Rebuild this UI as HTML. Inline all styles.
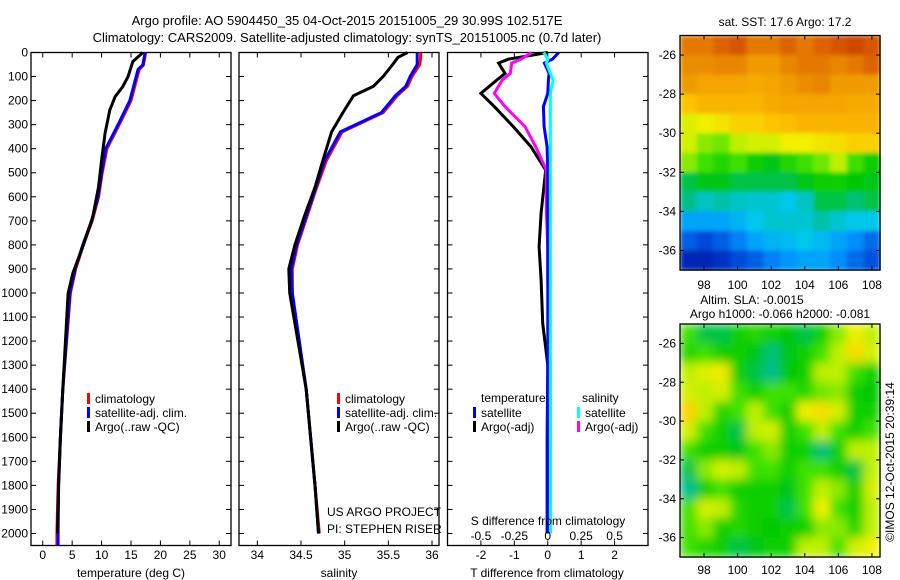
<!DOCTYPE html>
<html><head><meta charset="utf-8"><style>
body{margin:0;background:#fff}
svg{display:block;font-family:"Liberation Sans",sans-serif;font-size:12px}
</style></head><body>
<svg id="fig" width="900" height="580" viewBox="0 0 900 580">
<defs>
<filter id="blurS" x="0" y="0" width="1" height="1"><feGaussianBlur stdDeviation="2" edgeMode="duplicate"/></filter>
<filter id="blurL" x="0" y="0" width="1" height="1"><feGaussianBlur stdDeviation="5" edgeMode="duplicate"/></filter>
</defs>
<text x="347" y="25" text-anchor="middle" font-size="13">Argo profile: AO 5904450_35 04-Oct-2015 20151005_29 30.99S 102.517E</text>
<text x="347" y="42" text-anchor="middle" font-size="13">Climatology: CARS2009. Satellite-adjusted climatology: synTS_20151005.nc (0.7d later)</text>
<text x="785" y="26" text-anchor="middle">sat. SST: 17.6 Argo: 17.2</text>
<text x="752" y="304" text-anchor="middle">Altim. SLA: -0.0015</text>
<text x="780" y="318" text-anchor="middle">Argo h1000: -0.066 h2000: -0.081</text>
<text transform="translate(894,462) rotate(-90)" text-anchor="middle">©IMOS 12-Oct-2015 20:39:14</text>
<g id="root"></g>
</svg>
<script>
// ---- data ----
const depthsUpper = [0, 38, 100, 142, 184, 239, 335, 447, 558, 683, 807, 918, 1002, 1400, 1600, 1800, 2000];
const argoTemp    = [17.0, 15.3, 14.5, 13.6, 12.3, 11.4, 10.6, 10.0, 9.5, 8.5, 6.8, 5.1, 4.3, 3.4, 3.0, 2.7, 2.5];
const climDepths  = [0, 52, 70, 200, 300, 400, 500, 600, 700, 800, 900, 1000, 1400, 1600, 1800, 2000, 2050];
const satTemp     = [17.4, 17.0, 16.2, 14.8, 12.8, 10.7, 10.0, 9.4, 8.3, 6.8, 5.5, 4.6, 3.4, 3.0, 2.7, 2.6, 2.6];
const climTemp    = [17.5, 17.1, 16.4, 15.0, 13.0, 10.9, 10.1, 9.5, 8.4, 6.9, 5.6, 4.7, 3.4, 3.0, 2.6, 2.4, 2.4];
const salDepths   = [0, 20, 50, 100, 140, 180, 250, 330, 450, 560, 680, 800, 900, 1000, 1400, 1600, 1800, 2000];
const argoSal     = [35.72, 35.61, 35.55, 35.44, 35.33, 35.10, 34.98, 34.85, 34.75, 34.66, 34.54, 34.43, 34.36, 34.37, 34.56, 34.61, 34.66, 34.70];
const satSal      = [35.83, 35.83, 35.83, 35.75, 35.70, 35.58, 35.42, 34.95, 34.77, 34.67, 34.56, 34.45, 34.39, 34.40, 34.56, 34.61, 34.66, 34.70];
const climSal     = [35.87, 35.87, 35.86, 35.77, 35.72, 35.60, 35.44, 34.97, 34.79, 34.68, 34.57, 34.46, 34.40, 34.40, 34.56, 34.61, 34.66, 34.71];
const diffDepths  = [0, 28, 44, 87, 114, 170, 225, 308, 392, 489, 668, 807, 946, 1126, 1300, 1600, 2000];
const argoTDiff   = [0.0, -1.18, -1.47, -1.28, -1.52, -2.0, -1.6, -1.03, -0.5, -0.06, -0.2, -0.26, -0.2, -0.15, 0.0, 0.0, 0.0];
const argoSDiff   = [-0.12, -0.20, -0.27, -0.28, -0.34, -0.40, -0.32, -0.17, -0.09, -0.01, -0.01, 0.0, 0.0, 0.01, 0.02, 0.02, 0.02];
const satTDiff    = [0.33, 0.14, -0.1, 0.04, 0.02, 0.0, -0.13, -0.11, -0.02, 0.0, 0.0, 0.0, 0.0, 0.0, 0.0, -0.02, -0.02];
const satSDiff    = [-0.03, 0.0, -0.01, 0.02, 0.04, 0.02, 0.02, 0.02, 0.02, 0.02, 0.02, 0.02, 0.02, 0.02, 0.02, 0.02, 0.02];
const depthTicks  = [0,100,200,300,400,500,600,700,800,900,1000,1100,1200,1300,1400,1500,1600,1700,1800,1900,2000];
const tempTicks   = [0,5,10,15,20,25,30];
const salTicks    = [34,34.5,35,35.5,36];
const salTickLabels = ['34','34.5','35','35.5','36'];
const tdTicks     = [-2,-1,0,1,2];
const sdTicks     = [-0.5,-0.25,0,0.25,0.5];
const sdTickLabels = ['-0.5','-0.25','0','0.25','0.5'];
const lonTicks    = [98,100,102,104,106,108];
const latTicks    = [-26,-28,-30,-32,-34,-36];
const sstGrid = [
 [0.85,0.85,0.88,0.9,0.85,0.85,0.88,0.85,0.88,0.9,0.92,0.9],
 [0.82,0.82,0.83,0.83,0.8,0.8,0.83,0.85,0.85,0.83,0.85,0.88],
 [0.8,0.78,0.78,0.78,0.77,0.78,0.8,0.82,0.83,0.8,0.8,0.8],
 [0.72,0.75,0.75,0.75,0.75,0.77,0.78,0.78,0.78,0.78,0.77,0.77],
 [0.63,0.65,0.67,0.7,0.7,0.72,0.73,0.75,0.75,0.75,0.75,0.75],
 [0.62,0.58,0.57,0.6,0.62,0.62,0.65,0.65,0.67,0.68,0.7,0.7],
 [0.58,0.55,0.52,0.55,0.5,0.47,0.52,0.55,0.57,0.6,0.55,0.5],
 [0.45,0.47,0.47,0.45,0.45,0.45,0.45,0.47,0.5,0.5,0.48,0.47],
 [0.42,0.38,0.4,0.38,0.37,0.37,0.35,0.38,0.45,0.45,0.43,0.45],
 [0.3,0.3,0.3,0.32,0.35,0.37,0.37,0.37,0.4,0.37,0.35,0.35],
 [0.2,0.17,0.2,0.25,0.3,0.32,0.33,0.35,0.33,0.3,0.27,0.22],
 [0.1,0.1,0.12,0.17,0.2,0.25,0.28,0.3,0.3,0.27,0.22,0.18]];
const slaGrid = [
 [0.55,0.45,0.45,0.5,0.52,0.5,0.48,0.45,0.5,0.58,0.65,0.6],
 [0.52,0.55,0.5,0.5,0.47,0.43,0.47,0.5,0.55,0.6,0.68,0.62],
 [0.6,0.63,0.66,0.5,0.45,0.42,0.48,0.5,0.6,0.6,0.55,0.5],
 [0.62,0.6,0.62,0.55,0.5,0.55,0.55,0.52,0.57,0.58,0.5,0.48],
 [0.7,0.6,0.52,0.55,0.6,0.55,0.5,0.65,0.68,0.62,0.5,0.5],
 [0.62,0.55,0.5,0.45,0.6,0.62,0.5,0.55,0.6,0.55,0.5,0.55],
 [0.55,0.5,0.5,0.47,0.55,0.58,0.5,0.5,0.43,0.5,0.6,0.6],
 [0.45,0.58,0.62,0.6,0.55,0.55,0.5,0.55,0.55,0.5,0.45,0.6],
 [0.42,0.5,0.55,0.5,0.5,0.5,0.47,0.55,0.6,0.58,0.5,0.62],
 [0.55,0.62,0.6,0.52,0.5,0.5,0.45,0.55,0.65,0.55,0.5,0.6],
 [0.55,0.58,0.5,0.52,0.5,0.48,0.5,0.5,0.58,0.58,0.52,0.6],
 [0.55,0.52,0.5,0.45,0.47,0.5,0.5,0.6,0.6,0.55,0.62,0.65]];

// ---- helpers ----
const NS='http://www.w3.org/2000/svg';
const root=document.getElementById('root');
function mk(tag,attrs,parent){const e=document.createElementNS(NS,tag);for(const k in attrs)e.setAttribute(k,attrs[k]);(parent||root).appendChild(e);return e;}
function lin(d0,d1,r0,r1){return v=>r0+(v-d0)*(r1-r0)/(d1-d0);}
const PT=52.5, PB=545.5;
const yDepth=lin(0,2050,PT,PB);

function panel(x0,x1,name){
  const g=mk('g',{});
  
  
  const r=mk('rect',{x:x0,y:PT,width:x1-x0,height:PB-PT,fill:'none',stroke:'#000','stroke-width':1.3},g);
  
  
  depthTicks.forEach(d=>{const y=yDepth(d);
    mk('line',{x1:x0,x2:x0+5,y1:y,y2:y,stroke:'#000'},g);
    mk('line',{x1:x1,x2:x1-5,y1:y,y2:y,stroke:'#000'},g);});
  return g;
}
function xticks(g,ticks,labels,sx,x0,x1,yl){
  ticks.forEach((t,i)=>{const x=sx(t);
    mk('line',{x1:x,x2:x,y1:PB,y2:PB-5,stroke:'#000'},g);
    mk('line',{x1:x,x2:x,y1:PT,y2:PT+5,stroke:'#000'},g);
    const tx=mk('text',{x:x,y:yl,'text-anchor':'middle'},g);tx.textContent=labels[i];
    
    });
}
function line(g,xs,ds,sx,color,w,name){
  const pts=xs.map((v,i)=>sx(v).toFixed(1)+','+yDepth(ds[i]).toFixed(1)).join(' ');
  const p=mk('polyline',{points:pts,fill:'none',stroke:color,'stroke-width':w,'stroke-linejoin':'miter'},g);
  
  
}
function txt(g,x,y,s,name,anchor){const t=mk('text',{x:x,y:y,'text-anchor':anchor||'start'},g);t.textContent=s;
  
  return t;}
function legend(g,x,y,color,label,name){
  const r=mk('rect',{x:x,y:y-9,width:3,height:11,fill:color},g);
  
  
  txt(g,x+8,y+1,label,name);
}

// depth labels
const gy=mk('g',{});


depthTicks.forEach(d=>{txt(gy,28,yDepth(d)+4,String(d),'depth-tick-label','end');});

// panel 1 temperature
const sT=lin(-2,32,31,231);
const g1=panel(31,231,'temperature-panel');
xticks(g1,tempTicks,tempTicks.map(String),sT,31,231,559);
txt(g1,131,577,'temperature (deg C)','temperature-axis-title','middle');
line(g1,climTemp,climDepths,sT,'#ff0000',3,'temp-climatology-line');
line(g1,satTemp,climDepths,sT,'#0000ff',3,'temp-satellite-line');
line(g1,argoTemp,depthsUpper,sT,'#000',3,'temp-argo-line');
legend(g1,87,402,'#ff0000','climatology','legend-climatology');
legend(g1,87,416,'#0000ff','satellite-adj. clim.','legend-satellite');
legend(g1,87,430,'#000','Argo(..raw -QC)','legend-argo');

// panel 2 salinity
const sS=lin(33.79,36.08,239,439);
const g2=panel(239,439,'salinity-panel');
xticks(g2,salTicks,salTickLabels,sS,239,439,559);
txt(g2,339,577,'salinity','salinity-axis-title','middle');
line(g2,climSal,salDepths,sS,'#ff0000',3,'sal-climatology-line');
line(g2,satSal,salDepths,sS,'#0000ff',3,'sal-satellite-line');
line(g2,argoSal,salDepths,sS,'#000',3,'sal-argo-line');
legend(g2,337,402,'#ff0000','climatology','legend-climatology');
legend(g2,337,416,'#0000ff','satellite-adj. clim.','legend-satellite');
legend(g2,337,430,'#000','Argo(..raw -QC)','legend-argo');
txt(g2,327,516,'US ARGO PROJECT','project-credit');
txt(g2,327,533,'PI: STEPHEN RISER','pi-credit');

// panel 3 differences
const sTD=lin(-3,3,447.5,648);
const sSD=lin(-0.75,0.75,447.5,648);
const g3=panel(447.5,648,'difference-panel');
xticks(g3,tdTicks,tdTicks.map(String),sTD,447.5,648,559);
txt(g3,547,577,'T difference from climatology','t-diff-axis-title','middle');
line(g3,argoTDiff,diffDepths,sTD,'#000',3,'argo-temp-diff-line');
line(g3,argoSDiff,diffDepths,sSD,'#ff00ff',3,'argo-sal-diff-line');
line(g3,satTDiff,diffDepths,sTD,'#0000ff',3,'sat-temp-diff-line');
line(g3,satSDiff,diffDepths,sSD,'#00ffff',3,'sat-sal-diff-line');
txt(g3,481,402,'temperature','legend-temperature-heading');
txt(g3,582,402,'salinity','legend-salinity-heading');
legend(g3,473,416,'#0000ff','satellite','legend-temp-satellite');
legend(g3,473,430,'#000','Argo(-adj)','legend-temp-argo');
legend(g3,577,416,'#00ffff','satellite','legend-sal-satellite');
legend(g3,577,430,'#ff00ff','Argo(-adj)','legend-sal-argo');
txt(g3,548,525,'S difference from climatology','s-diff-axis-title','middle');
sdTicks.forEach((t,i)=>txt(g3,sSD(t),540,sdTickLabels[i],'s-diff-tick-label','middle'));

// maps
const stops=[[0,[0,0,130]],[0.15,[0,60,210]],[0.28,[0,150,255]],[0.35,[0,200,235]],[0.42,[0,190,140]],[0.48,[0,200,0]],[0.55,[60,225,0]],[0.6,[190,240,0]],[0.65,[240,240,0]],[0.72,[255,195,0]],[0.8,[240,155,0]],[0.88,[222,100,0]],[1,[175,20,0]]];
function cmap(v){for(let i=1;i<stops.length;i++){if(v<=stops[i][0]){const a=stops[i-1],b=stops[i],f=(v-a[0])/(b[0]-a[0]);
  return 'rgb('+a[1].map((c,k)=>Math.round(c+f*(b[1][k]-c))).join(',')+')';}}return 'rgb(175,20,0)';}
function map(grid,top,bot,name,labY,filt){
  const g=mk('g',{});
  
  
  const cells=mk('g',{filter:'url(#'+filt+')'},g);
  
  
  const sx=lin(96.57,108.48,680,880), sy=lin(-25,-37,top,bot);
  const nr=grid.length,nc=grid[0].length;
  for(let r=0;r<nr;r++)for(let c=0;c<nc;c++){
    const lon0=96.57+c*(108.48-96.57)/nc, lon1=96.57+(c+1)*(108.48-96.57)/nc;
    const la0=-25-r, la1=-26-r;
    const x=sx(lon0),y=sy(la0);
    const cell=mk('rect',{x:x,y:y,width:sx(lon1)-x+0.6,height:sy(la1)-y+0.6,fill:cmap(grid[r][c])},cells);
    
    
  }
  const f=mk('rect',{x:680,y:top,width:200,height:bot-top,fill:'none',stroke:'#000','stroke-width':1.3},g);
  
  
  lonTicks.forEach(l=>{const x=sx(l);mk('line',{x1:x,x2:x,y1:bot,y2:bot-4,stroke:'#000'},g);mk('line',{x1:x,x2:x,y1:top,y2:top+4,stroke:'#000'},g);
    txt(g,x,labY,String(l),'lon-tick-label','middle');});
  latTicks.forEach(l=>{const y=sy(l);mk('line',{x1:680,x2:684,y1:y,y2:y,stroke:'#000'},g);mk('line',{x1:880,x2:876,y1:y,y2:y,stroke:'#000'},g);
    txt(g,676,y+4,String(l),'lat-tick-label','end');});
}
map(sstGrid,35.5,270,'sst-map',289,'blurS');
map(slaGrid,324,557,'sla-map',574,'blurL');
</script>
</body></html>
